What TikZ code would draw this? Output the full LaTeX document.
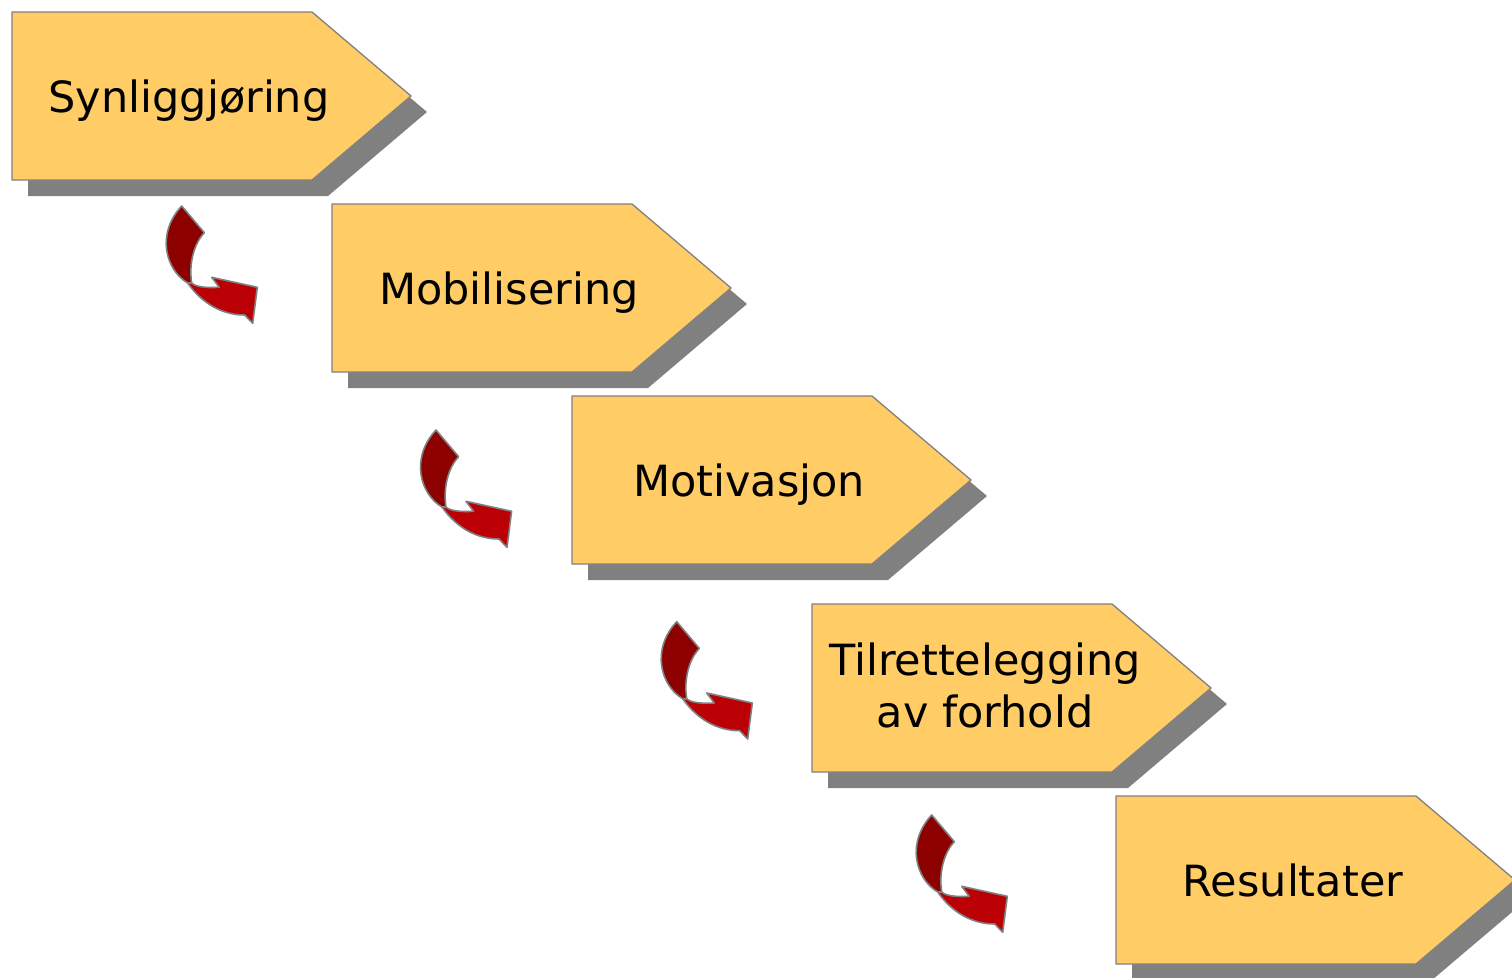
\documentclass[tikz,border=0pt]{standalone}
\usepackage{fontspec}
\setmainfont{DejaVu Sans}
\definecolor{boxfill}{RGB}{255,204,102}
\definecolor{edgegray}{RGB}{128,128,128}
\definecolor{shadegray}{RGB}{128,128,128}
\definecolor{backred}{RGB}{140,0,0}
\definecolor{frontred}{RGB}{186,0,4}
\tikzset{
  stepshape/.style={fill=boxfill,draw=edgegray,line width=1.3pt,line join=miter},
  stepshadow/.style={fill=shadegray},
  steptext/.style={font=\fontsize{43}{52}\selectfont,anchor=base,inner sep=0pt,align=center},
  backband/.style={fill=backred,draw=edgegray,line width=1.6pt,line join=round},
  frontband/.style={fill=frontred,draw=edgegray,line width=1.6pt,line join=round},
  turnarrow/.pic={
    \path[frontband] (6,77) .. controls (20,97) and (40,109) .. (63,109) -- (71,117.3) -- (75.6,81.3) -- (30,71.3) -- (37.6,81.3) .. controls (25,82) and (14,81) .. (10,77) -- cycle;
    \path[backband] (0,0) -- (22.6,26.7) .. controls (12,38) and (7,58) .. (10,77) -- (6,77) .. controls (-16,64) and (-26,28) .. (0,0) -- cycle;
  }
}
\begin{document}
\begin{tikzpicture}[x=1pt,y=-1pt]
\useasboundingbox (0,0) rectangle (1512,977);
\clip (0,0) rectangle (1512,977);
\foreach \l/\t in {12/12,332/204,572/396,812/604,1116/796}{
  \path[stepshadow] (\l+16,\t+16) -- (\l+316,\t+16) -- (\l+415,\t+100) -- (\l+316,\t+184) -- (\l+16,\t+184) -- cycle;
  \path[stepshape] (\l,\t) -- (\l+300,\t) -- (\l+399,\t+84) -- (\l+300,\t+168) -- (\l,\t+168) -- cycle;
}
\node[steptext] (t1) at (189,112) {Synliggjøring};
\node[steptext] (t2) at (509,304) {Mobilisering};
\node[steptext] (t3) at (749,496) {Motivasjon};
\node[steptext,anchor=north] (t4) at (985,643) {Tilrettelegging\\av forhold};
\node[steptext] (t5) at (1293,896) {Resultater};
\pic at (181.7,206) {turnarrow};
\pic at (436,430) {turnarrow};
\pic at (676.7,621.7) {turnarrow};
\pic at (931.7,815) {turnarrow};
\end{tikzpicture}
\end{document}
